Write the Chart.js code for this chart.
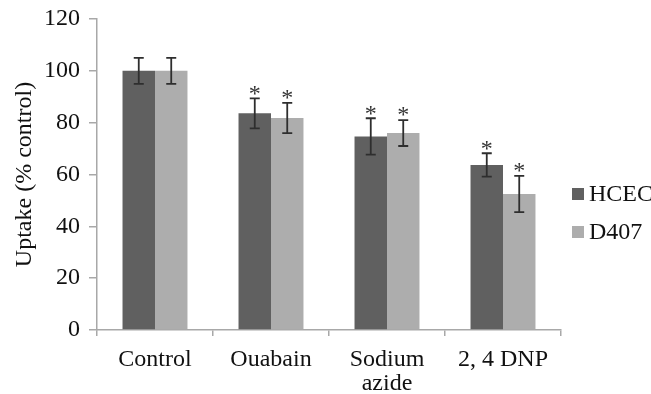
<!DOCTYPE html>
<html>
<head>
<meta charset="utf-8">
<script src="https://cdn.jsdelivr.net/npm/chart.js@4"></script>
<style>
  html, body { margin: 0; padding: 0; background: #fff; }
  #wrap { width: 651px; height: 394px; }
</style>
</head>
<body>
<div id="wrap"><canvas id="uptakeChart"></canvas></div>
<script>
const categories = ['Control', 'Ouabain', ['Sodium', 'azide'], '2, 4 DNP'];
const hcecValues = [100, 83.6, 74.7, 63.7];
const hcecErrors = [5, 5.8, 7, 4.5];
const d407Values = [100, 81.8, 76, 52.5];
const d407Errors = [5, 5.8, 5, 7];
const significant = [false, true, true, true];
const yTicks = [0, 20, 40, 60, 80, 100, 120];

const serif = '"Liberation Serif", "DejaVu Serif", serif';

// error bars, asterisks and the legend on the right
const extrasPlugin = {
  id: 'extras',
  afterDatasetsDraw(chart) {
    const ctx = chart.ctx;
    const y = chart.scales.y;
    const errs = [hcecErrors, d407Errors];
    ctx.save();
    chart.data.datasets.forEach((ds, di) => {
      const meta = chart.getDatasetMeta(di);
      meta.data.forEach((bar, i) => {
        const v = ds.data[i];
        const top = y.getPixelForValue(v + errs[di][i]);
        const bot = y.getPixelForValue(v - errs[di][i]);
        const x = bar.x;
        ctx.strokeStyle = '#2e2e2e';
        ctx.lineWidth = 1.8;
        ctx.beginPath();
        ctx.moveTo(x, top); ctx.lineTo(x, bot);
        ctx.moveTo(x - 5, top); ctx.lineTo(x + 5, top);
        ctx.moveTo(x - 5, bot); ctx.lineTo(x + 5, bot);
        ctx.stroke();
        if (significant[i]) {
          ctx.fillStyle = '#333';
          ctx.font = '24px ' + serif;
          ctx.textAlign = 'center';
          ctx.textBaseline = 'middle';
          ctx.fillText('*', x, top - 4);
        }
      });
    });
    // legend
    ctx.font = '24px ' + serif;
    ctx.textAlign = 'left';
    ctx.textBaseline = 'middle';
    chart.data.datasets.forEach((ds, di) => {
      const ly = 194 + di * 38;
      ctx.fillStyle = ds.backgroundColor;
      ctx.fillRect(572, ly - 6, 12, 12);
      ctx.fillStyle = '#111';
      ctx.fillText(ds.label, 589, ly + 1);
    });
    ctx.restore();
  }
};

new Chart(document.getElementById('uptakeChart'), {
  type: 'bar',
  data: {
    labels: categories,
    datasets: [
      { label: 'HCEC', data: hcecValues, backgroundColor: '#606060' },
      { label: 'D407', data: d407Values, backgroundColor: '#adadad' }
    ]
  },
  options: {
    responsive: true,
    maintainAspectRatio: false,
    animation: false,
    devicePixelRatio: 1,
    layout: { padding: { left: 0, right: 90, top: 19, bottom: 0 } },
    categoryPercentage: 0.56,
    barPercentage: 1.0,
    plugins: {
      legend: { display: false },
      tooltip: { enabled: false }
    },
    scales: {
      x: {
        afterFit: (s) => { s.height = 64; },
        grid: {
          display: true,
          offset: true,
          drawOnChartArea: false,
          tickLength: 6,
          color: '#a8a8a8',
          lineWidth: 1.5
        },
        border: { color: '#a8a8a8', width: 1.5 },
        ticks: {
          color: '#111',
          font: { family: serif, size: 24, lineHeight: 1.0 },
          padding: 12,
          maxRotation: 0,
          autoSkip: false
        }
      },
      y: {
        min: 0,
        max: 120,
        afterFit: (s) => { s.width = 97; s.paddingTop = 0; s.paddingBottom = 0; },
        afterBuildTicks: (s) => { s.ticks = yTicks.map(v => ({ value: v })); },
        grid: {
          display: true,
          drawOnChartArea: false,
          tickLength: 8,
          color: '#a8a8a8',
          lineWidth: 1.5
        },
        border: { color: '#a8a8a8', width: 1.5 },
        ticks: {
          color: '#111',
          font: { family: serif, size: 24, lineHeight: 1.0 },
          padding: 9
        },
        title: {
          display: true,
          text: 'Uptake (% control)',
          color: '#111',
          font: { family: serif, size: 24 },
          padding: { top: 10, bottom: 0 }
        }
      }
    }
  },
  plugins: [extrasPlugin]
});
</script>
</body>
</html>
